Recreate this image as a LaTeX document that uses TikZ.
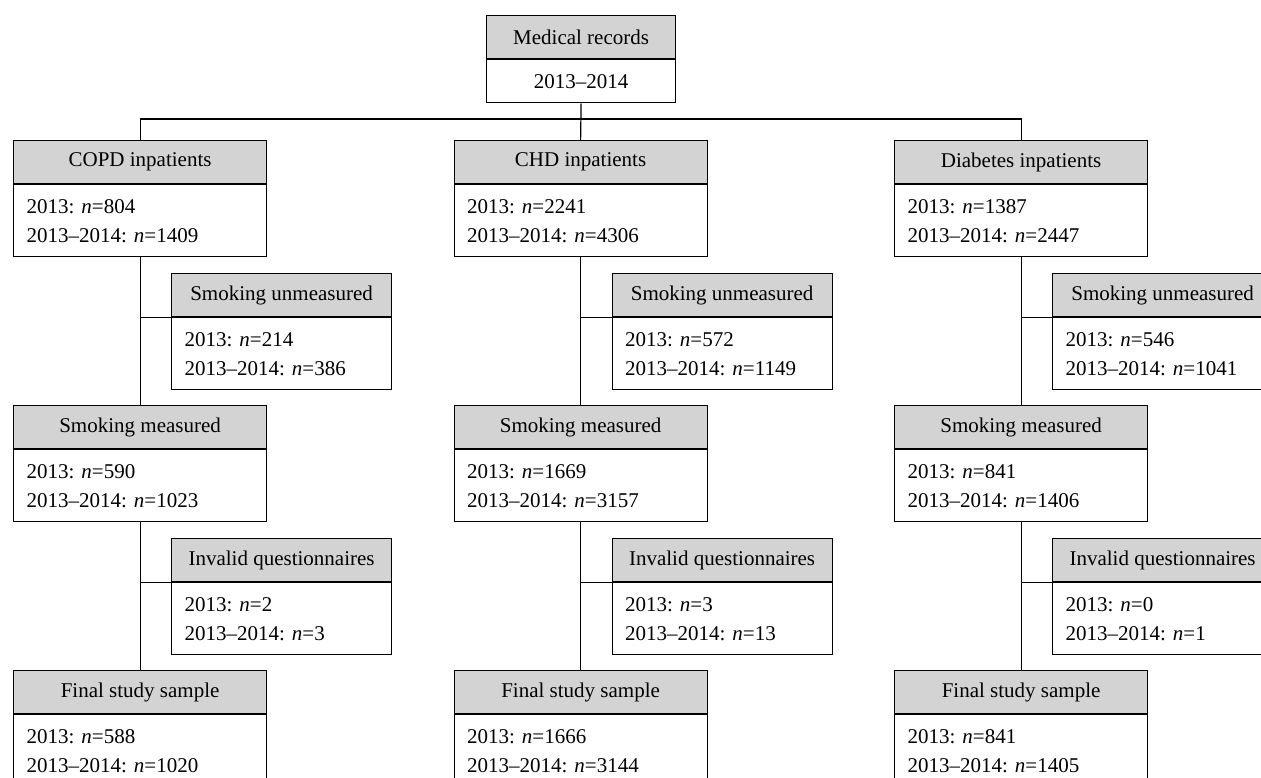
\documentclass[tikz,border=0pt]{standalone}
\usepackage{fontspec}
\setmainfont{Liberation Serif}
\usetikzlibrary{positioning}
\definecolor{headgray}{RGB}{211,211,211}
\frenchspacing

\begin{document}
\begin{tikzpicture}
    [x=1pt, y=-1pt,
    font=\fontsize{21}{29}\selectfont,
    head/.style={draw, line width=1.2pt, fill=headgray, minimum height=43pt, inner sep=0pt, anchor=north west},
    body/.style={draw, line width=1.2pt, fill=white, minimum height=72pt, inner xsep=13pt, inner ysep=0pt, align=left},
    mainhead/.style={head, minimum width=253pt},
    sidehead/.style={head, minimum width=220pt},
    mainbody/.style={body, text width=227pt},
    sidebody/.style={body, text width=194pt},
    link/.style={line width=1.2pt},
    ]

    \useasboundingbox (0,0) rectangle (1261,778);

    %Records
    \node[head, minimum width=189pt] (recH) at (486,15) {Medical records};
    \node[body, minimum width=189pt, minimum height=43pt, below=0pt of recH] (recB) {2013--2014};

    %COPD
    \node[mainhead] (copdH) at (13,140) {COPD inpatients};
    \node[mainbody, below=0pt of copdH] (copdB) {2013: \textit{n}=804\\2013--2014: \textit{n}=1409};
    \node[sidehead] (copdUH) at (171,273) {Smoking unmeasured};
    \node[sidebody, below=0pt of copdUH] (copdUB) {2013: \textit{n}=214\\2013--2014: \textit{n}=386};
    \node[mainhead] (copdMH) at (13,405) {Smoking measured};
    \node[mainbody, below=0pt of copdMH] (copdMB) {2013: \textit{n}=590\\2013--2014: \textit{n}=1023};
    \node[sidehead] (copdIH) at (171,538) {Invalid questionnaires};
    \node[sidebody, below=0pt of copdIH] (copdIB) {2013: \textit{n}=2\\2013--2014: \textit{n}=3};
    \node[mainhead] (copdFH) at (13,670) {Final study sample};
    \node[mainbody, below=0pt of copdFH] (copdFB) {2013: \textit{n}=588\\2013--2014: \textit{n}=1020};

    %CHD
    \node[mainhead] (chdH) at (453.5,140) {CHD inpatients};
    \node[mainbody, below=0pt of chdH] (chdB) {2013: \textit{n}=2241\\2013--2014: \textit{n}=4306};
    \node[sidehead] (chdUH) at (611.5,273) {Smoking unmeasured};
    \node[sidebody, below=0pt of chdUH] (chdUB) {2013: \textit{n}=572\\2013--2014: \textit{n}=1149};
    \node[mainhead] (chdMH) at (453.5,405) {Smoking measured};
    \node[mainbody, below=0pt of chdMH] (chdMB) {2013: \textit{n}=1669\\2013--2014: \textit{n}=3157};
    \node[sidehead] (chdIH) at (611.5,538) {Invalid questionnaires};
    \node[sidebody, below=0pt of chdIH] (chdIB) {2013: \textit{n}=3\\2013--2014: \textit{n}=13};
    \node[mainhead] (chdFH) at (453.5,670) {Final study sample};
    \node[mainbody, below=0pt of chdFH] (chdFB) {2013: \textit{n}=1666\\2013--2014: \textit{n}=3144};

    %Diabetes
    \node[mainhead] (diabH) at (894,140) {Diabetes inpatients};
    \node[mainbody, below=0pt of diabH] (diabB) {2013: \textit{n}=1387\\2013--2014: \textit{n}=2447};
    \node[sidehead] (diabUH) at (1052,273) {Smoking unmeasured};
    \node[sidebody, below=0pt of diabUH] (diabUB) {2013: \textit{n}=546\\2013--2014: \textit{n}=1041};
    \node[mainhead] (diabMH) at (894,405) {Smoking measured};
    \node[mainbody, below=0pt of diabMH] (diabMB) {2013: \textit{n}=841\\2013--2014: \textit{n}=1406};
    \node[sidehead] (diabIH) at (1052,538) {Invalid questionnaires};
    \node[sidebody, below=0pt of diabIH] (diabIB) {2013: \textit{n}=0\\2013--2014: \textit{n}=1};
    \node[mainhead] (diabFH) at (894,670) {Final study sample};
    \node[mainbody, below=0pt of diabFH] (diabFB) {2013: \textit{n}=841\\2013--2014: \textit{n}=1405};

    %fork
    \draw[link] (recB.south) -- (chdH.north);
    \draw[link] (copdH.north) -- ++(0,-21) -| (diabH.north);

    %columns
    \foreach \c in {copd,chd,diab}{
        \draw[link] (\c B.south) -- (\c MH.north);
        \draw[link] (\c MB.south) -- (\c FH.north);
        \draw[link] (\c UB.north west) -- (\c UB.north west -| \c B.south);
        \draw[link] (\c IB.north west) -- (\c IB.north west -| \c B.south);
    }

    \end{tikzpicture}
\end{document}
